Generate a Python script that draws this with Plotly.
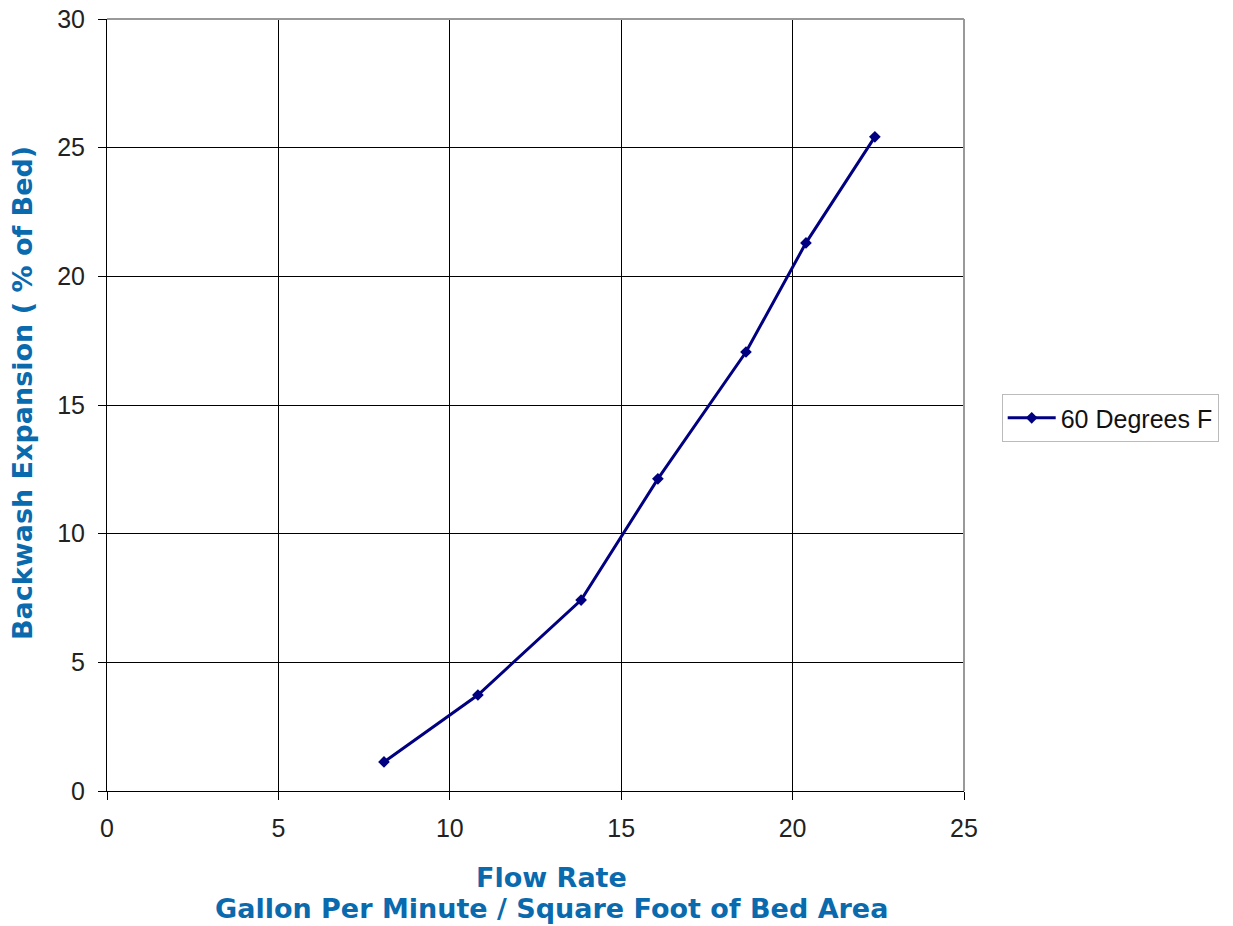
import plotly.graph_objects as go

flow_rate = [8.08, 10.82, 13.83, 16.07, 18.64, 20.39, 22.40]
expansion = [1.13, 3.73, 7.42, 12.13, 17.06, 21.30, 25.42]
series_name = "60 Degrees F"
x_ticks = [0, 5, 10, 15, 20, 25]
y_ticks = [0, 5, 10, 15, 20, 25, 30]
x_title_lines = ["Flow Rate", "Gallon Per Minute / Square Foot of Bed Area"]
y_title = "Backwash Expansion ( % of Bed)"

title_color = "#0A6AAE"
title_font = dict(family="DejaVu Sans", size=27, color=title_color, weight="bold")

fig = go.Figure()
fig.add_trace(go.Scatter(
    x=flow_rate, y=expansion, mode="lines+markers", name=series_name,
    line=dict(color="#000080", width=3),
    marker=dict(symbol="diamond", size=9, color="#000080"),
))

fig.update_layout(
    width=1233, height=926,
    margin=dict(l=107, r=269, t=19, b=135),
    paper_bgcolor="white", plot_bgcolor="white",
    showlegend=True,
    legend=dict(
        x=1.044, y=0.483, xanchor="left", yanchor="middle",
        bordercolor="#BBBBBB", borderwidth=1, bgcolor="white",
        itemwidth=48,
        font=dict(family="Liberation Sans, Arial", size=25, color="#111111"),
    ),
    font=dict(family="Liberation Sans, Arial", color="#222222"),
)

fig.update_xaxes(
    range=[0, 25], tickvals=x_ticks, showgrid=True, gridcolor="#000000", gridwidth=1,
    showline=True, linecolor="#000000", linewidth=1, ticks="outside", ticklen=8,
    tickcolor="#000000", tickfont=dict(size=25, color="#222222"), zeroline=False,
    ticklabelstandoff=7, automargin=False, ticklabeloverflow="allow",
)
fig.update_yaxes(
    range=[0, 30], tickvals=y_ticks, showgrid=True, gridcolor="#000000", gridwidth=1,
    showline=True, linecolor="#000000", linewidth=1, ticks="outside", ticklen=8,
    tickcolor="#000000", tickfont=dict(size=25, color="#222222"), zeroline=False,
    ticklabelstandoff=8, automargin=False, ticklabeloverflow="allow",
)

# axis titles placed as annotations for exact positioning
fig.add_annotation(text=x_title_lines[0], xref="paper", yref="paper", x=0.519, y=-0.1114,
                   xanchor="center", yanchor="middle", showarrow=False, font=title_font)
fig.add_annotation(text=x_title_lines[1], xref="paper", yref="paper", x=0.519, y=-0.1528,
                   xanchor="center", yanchor="middle", showarrow=False, font=title_font)
fig.add_annotation(text=y_title, xref="paper", yref="paper", x=-0.0992, y=0.5155,
                   xanchor="center", yanchor="middle", showarrow=False, textangle=-90,
                   font=title_font)

# gray top and right borders of plot area
fig.add_shape(type="line", xref="paper", yref="paper", x0=0, x1=1, y0=1, y1=1,
              line=dict(color="#999999", width=2), layer="above")
fig.add_shape(type="line", xref="paper", yref="paper", x0=1, x1=1, y0=0, y1=1,
              line=dict(color="#999999", width=2), layer="above")

fig.write_html("out.html", config={"displayModeBar": False},
               post_script="document.body.style.margin='0';")
